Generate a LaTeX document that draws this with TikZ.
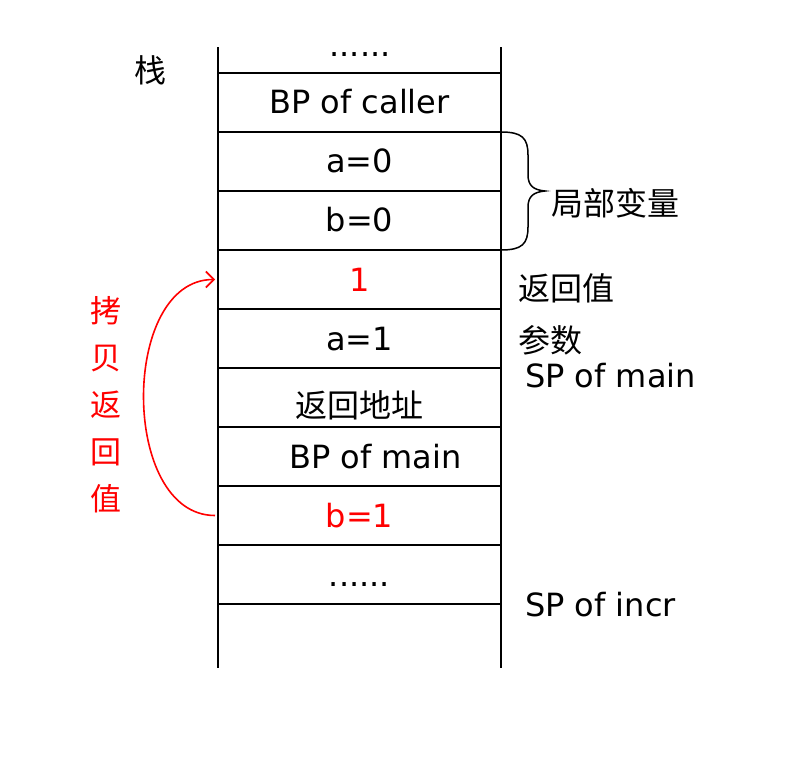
\documentclass[tikz,border=0pt]{standalone}
\usepackage{fontspec}
\setmainfont{DejaVu Sans}
\newfontfamily\cjk{Noto Sans CJK SC}
\usetikzlibrary{arrows.meta,positioning}

\begin{document}
\begin{tikzpicture}[x=1pt,y=-1pt]
\tikzstyle{every node}=[font=\fontsize{32}{38}\selectfont]
\tikzstyle{cell}=[draw, line width=2pt, minimum width=283pt, minimum height=59pt, inner sep=0pt, outer sep=0pt, text height=27pt, text depth=4pt]
\tikzstyle{side}=[anchor=west, inner sep=0pt]

\useasboundingbox (0,0) rectangle (798,770);

% stack cells
\node[cell] (caller) at (359.5,102.5) {BP of caller};
\node[cell, below=0pt of caller] (a0) {a=0};
\node[cell, below=0pt of a0] (b0) {b=0};
\node[cell, below=0pt of b0, text=red] (ret) {1};
\node[cell, below=0pt of ret] (a1) {a=1};
\node[cell, below=0pt of a1] (raddr) {\raisebox{-8pt}{\cjk 返回地址}};
\node[cell, below=0pt of raddr] (bpmain) {\hspace*{32pt}BP of main};
\node[cell, below=0pt of bpmain, text=red] (b1) {b=1};
\node[cell, below=0pt of b1] (more) {......};

\draw[line width=2pt] (caller.north west) -- ++(0,-26);
\draw[line width=2pt] (caller.north east) -- ++(0,-26);
\draw[line width=2pt] (more.south west) -- ++(0,64);
\draw[line width=2pt] (more.south east) -- ++(0,64);

\node[anchor=base] (topdots) at (360,57) {......};
\node (stack) at (150,70) {\cjk 栈};

% brace
\draw[line width=1.5pt] (a0.north east) .. controls (522,132) and (528,138) .. (528,155) -- (528,175)
  .. controls (528,186) and (534,190) .. (545,191)
  .. controls (534,192) and (528,196) .. (528,207) -- (528,227)
  .. controls (528,244) and (522,250) .. (b0.south east);
\node[side] (locals) at (551,203) {\cjk 局部变量};

\node[side] (retlbl) at (518,288) {\cjk 返回值};
\node[side] (args) at (518,340) {\cjk 参数};
\node[side] (spmain) at (525,376) {SP of main};
\node[side] (spincr) at (525,605) {SP of incr};

% copy return value
\node[red, align=center, font=\cjk\fontsize{31}{47}\selectfont] (copy) at (106,405) {拷\\贝\\返\\回\\值};
\draw[red, line width=1.6pt, -{Straight Barb[length=8pt,width=16pt]}] ([xshift=-3pt]b1.west) .. controls +(-95,0) and +(-95,0) .. ([xshift=-3pt]ret.west);
\end{tikzpicture}
\end{document}
